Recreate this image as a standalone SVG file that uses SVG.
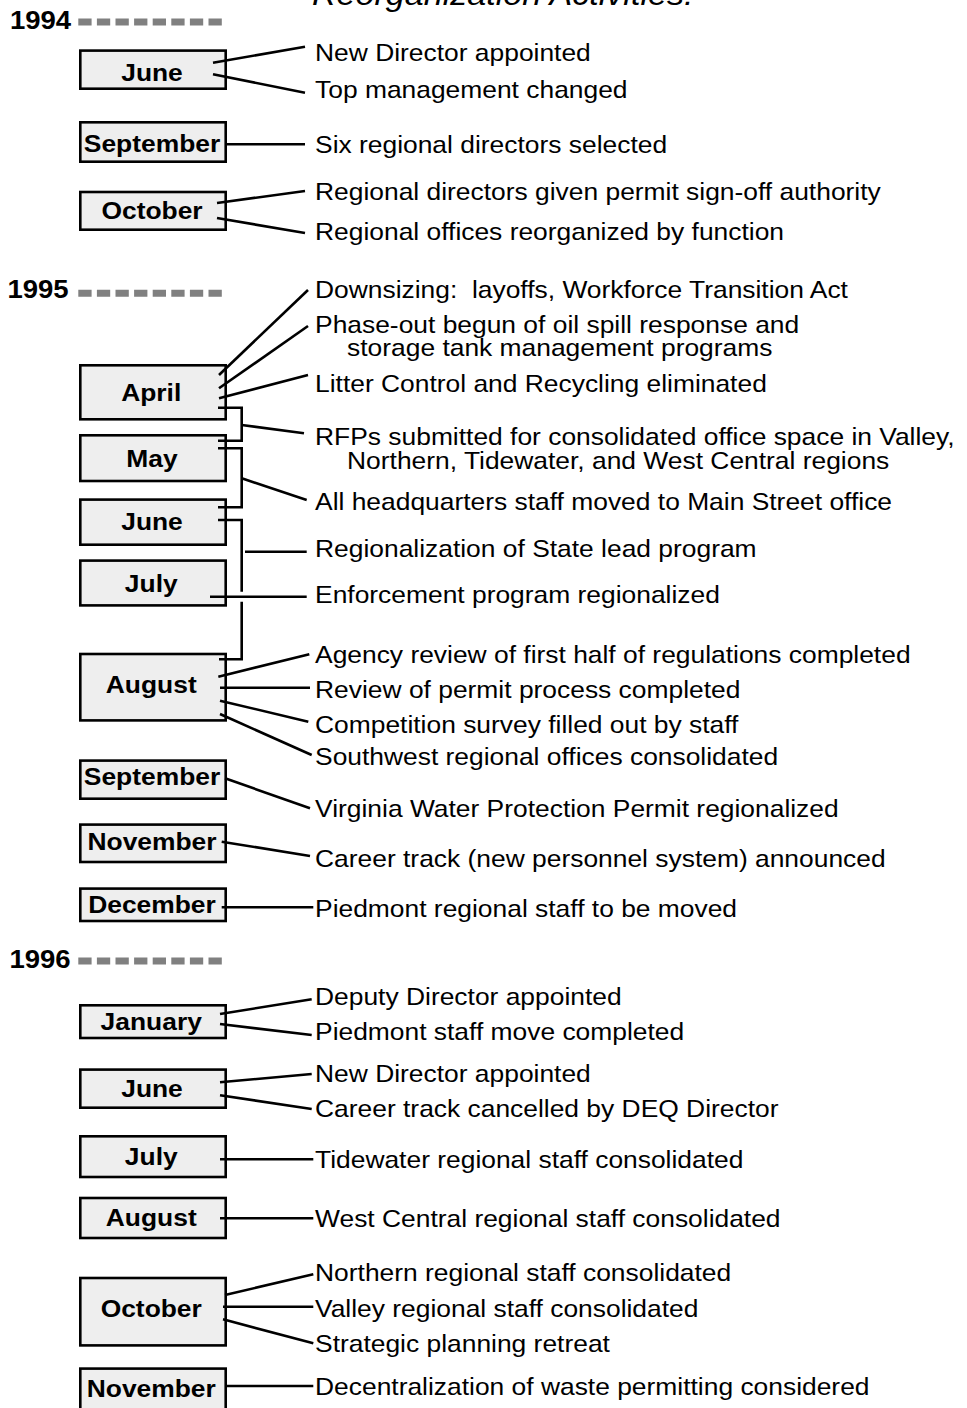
<svg xmlns="http://www.w3.org/2000/svg" width="967" height="1408" viewBox="0 0 967 1408">
<style>
.box{fill:#eeeeee;stroke:#000;stroke-width:2.6}
.mo{font-family:"Liberation Sans",Arial,sans-serif;font-size:24px;font-weight:bold;text-anchor:middle;fill:#000}
.ev{font-family:"Liberation Sans",Arial,sans-serif;font-size:24px;fill:#000}
.yr{font-family:"Liberation Sans",Arial,sans-serif;font-size:25px;font-weight:bold;fill:#000}
.ti{font-family:"Liberation Sans",Arial,sans-serif;font-size:31px;font-style:italic;fill:#000}
.dash{stroke:#808080;stroke-width:7;stroke-dasharray:13.3 5.3;fill:none}
.cn line,.cn path{stroke:#000;stroke-width:2.6;fill:none}
</style>
<rect width="967" height="1408" fill="#fff"/>
<g id="title" transform="scale(1.1 1)"><text class="ti" x="283.6" y="5">Reorganization Activities:</text></g>
<g id="year1994"><g transform="scale(1.1 1)"><text class="yr" x="9.1" y="29">1994</text></g><line class="dash" x1="78.3" y1="22" x2="222.7" y2="22"/></g>
<g id="year1995"><g transform="scale(1.1 1)"><text class="yr" x="6.8" y="298">1995</text></g><line class="dash" x1="78.3" y1="293.3" x2="222.7" y2="293.3"/></g>
<g id="year1996"><g transform="scale(1.1 1)"><text class="yr" x="8.6" y="968">1996</text></g><line class="dash" x1="78.3" y1="961" x2="222.7" y2="961"/></g>

<g id="m94-jun"><rect class="box" x="80.3" y="50.6" width="145.4" height="38.1"/><text class="mo" transform="scale(1.1 1)" x="138.2" y="81">June</text></g>
<g id="m94-sep"><rect class="box" x="80.3" y="122.3" width="145.4" height="39.4"/><text class="mo" transform="scale(1.1 1)" x="138.2" y="152">September</text></g>
<g id="m94-oct"><rect class="box" x="80.3" y="192" width="145.4" height="37.7"/><text class="mo" transform="scale(1.1 1)" x="138.2" y="219">October</text></g>

<g id="m95-apr"><rect class="box" x="80.3" y="365.3" width="145.4" height="54"/><text class="mo" transform="scale(1.1 1)" x="137.5" y="400.7">April</text></g>
<g id="m95-may"><rect class="box" x="80.3" y="435.3" width="145.4" height="45.7"/><text class="mo" transform="scale(1.1 1)" x="138.2" y="466.7">May</text></g>
<g id="m95-jun"><rect class="box" x="80.3" y="499.6" width="145.4" height="45.1"/><text class="mo" transform="scale(1.1 1)" x="138.2" y="530">June</text></g>
<g id="m95-jul"><rect class="box" x="80.3" y="560.6" width="145.4" height="44.8"/><text class="mo" transform="scale(1.1 1)" x="137.5" y="591.7">July</text></g>
<g id="m95-aug"><rect class="box" x="80.3" y="654" width="145.4" height="66.4"/><text class="mo" transform="scale(1.1 1)" x="137.5" y="693.3">August</text></g>
<g id="m95-sep"><rect class="box" x="80.3" y="760.6" width="145.4" height="38.1"/><text class="mo" transform="scale(1.1 1)" x="138.2" y="785">September</text></g>
<g id="m95-nov"><rect class="box" x="80.3" y="824.6" width="145.4" height="37.4"/><text class="mo" transform="scale(1.1 1)" x="138.2" y="850">November</text></g>
<g id="m95-dec"><rect class="box" x="80.3" y="888.6" width="145.4" height="32.4"/><text class="mo" transform="scale(1.1 1)" x="138.2" y="912.7">December</text></g>

<g id="m96-jan"><rect class="box" x="80.3" y="1005.3" width="145.4" height="32.7"/><text class="mo" transform="scale(1.1 1)" x="137.5" y="1030">January</text></g>
<g id="m96-jun"><rect class="box" x="80.3" y="1069.6" width="145.4" height="38.1"/><text class="mo" transform="scale(1.1 1)" x="138.2" y="1096.7">June</text></g>
<g id="m96-jul"><rect class="box" x="80.3" y="1136.3" width="145.4" height="40.7"/><text class="mo" transform="scale(1.1 1)" x="137.5" y="1165">July</text></g>
<g id="m96-aug"><rect class="box" x="80.3" y="1198" width="145.4" height="40"/><text class="mo" transform="scale(1.1 1)" x="137.5" y="1226">August</text></g>
<g id="m96-oct"><rect class="box" x="80.3" y="1278" width="145.4" height="67.4"/><text class="mo" transform="scale(1.1 1)" x="137.5" y="1316.7">October</text></g>
<g id="m96-nov"><rect class="box" x="80.3" y="1368.6" width="145.4" height="45"/><text class="mo" transform="scale(1.1 1)" x="137.5" y="1396.7">November</text></g>

<g id="connectors" class="cn">
<line x1="213" y1="62.7" x2="305" y2="46.7"/>
<line x1="213" y1="74.3" x2="305" y2="92.7"/>
<line x1="225" y1="144.3" x2="305" y2="144.3"/>
<line x1="217" y1="203" x2="305" y2="191"/>
<line x1="217" y1="218" x2="305" y2="233"/>
<line x1="219" y1="375" x2="308" y2="290"/>
<line x1="219" y1="388.3" x2="308" y2="326"/>
<line x1="219" y1="398.3" x2="308" y2="375"/>
<path d="M218,407.7 H241.7 V440.7 H218"/>
<line x1="241.7" y1="425" x2="304" y2="433.3"/>
<path d="M218,448.3 H241.7 V507.3 H218"/>
<line x1="241.7" y1="478.3" x2="306.7" y2="500"/>
<path d="M218,520 H241.7 V591.7"/>
<path d="M241.7,601.7 V659.3 H219"/>
<line x1="245" y1="551.7" x2="306.7" y2="551.7"/>
<line x1="210" y1="596.7" x2="306.7" y2="596.7"/>
<line x1="218.3" y1="676.7" x2="309.3" y2="654.3"/>
<line x1="220" y1="687.7" x2="310" y2="687.7"/>
<line x1="220" y1="700.7" x2="308.3" y2="721.7"/>
<line x1="220" y1="714" x2="311.7" y2="755"/>
<line x1="225" y1="778.3" x2="310" y2="808.3"/>
<line x1="221.7" y1="841.7" x2="310" y2="856"/>
<line x1="221.7" y1="907.3" x2="313.3" y2="907.3"/>
<line x1="220" y1="1014" x2="311.7" y2="999.3"/>
<line x1="220" y1="1024" x2="311.7" y2="1035"/>
<line x1="220" y1="1082.3" x2="311.7" y2="1074"/>
<line x1="220" y1="1095.3" x2="311.7" y2="1109"/>
<line x1="220" y1="1159.3" x2="313.3" y2="1159.3"/>
<line x1="220" y1="1218.3" x2="313.3" y2="1218.3"/>
<line x1="225" y1="1295" x2="313.3" y2="1274.3"/>
<line x1="223" y1="1306.7" x2="313.3" y2="1306.7"/>
<line x1="223" y1="1319.3" x2="313.3" y2="1343.3"/>
<line x1="225" y1="1386" x2="313.3" y2="1386"/>
</g>

<g id="events" transform="scale(1.1 1)">
<g id="e94-1"><text class="ev" x="286.4" y="61">New Director appointed</text></g>
<g id="e94-2"><text class="ev" x="286.4" y="98">Top management changed</text></g>
<g id="e94-3"><text class="ev" x="286.4" y="153">Six regional directors selected</text></g>
<g id="e94-4"><text class="ev" x="286.4" y="200">Regional directors given permit sign-off authority</text></g>
<g id="e94-5"><text class="ev" x="286.4" y="240">Regional offices reorganized by function</text></g>
<g id="e95-1"><text class="ev" x="286.4" y="298.3" xml:space="preserve">Downsizing:  layoffs, Workforce Transition Act</text></g>
<g id="e95-2"><text class="ev" x="286.4" y="333.3">Phase-out begun of oil spill response and</text><text class="ev" x="315.5" y="356">storage tank management programs</text></g>
<g id="e95-3"><text class="ev" x="286.4" y="392">Litter Control and Recycling eliminated</text></g>
<g id="e95-4"><text class="ev" x="286.4" y="445">RFPs submitted for consolidated office space in Valley,</text><text class="ev" x="315.5" y="469">Northern, Tidewater, and West Central regions</text></g>
<g id="e95-5"><text class="ev" x="286.4" y="510">All headquarters staff moved to Main Street office</text></g>
<g id="e95-6"><text class="ev" x="286.4" y="556.7">Regionalization of State lead program</text></g>
<g id="e95-7"><text class="ev" x="286.4" y="603.3">Enforcement program regionalized</text></g>
<g id="e95-8"><text class="ev" x="286.4" y="662.7">Agency review of first half of regulations completed</text></g>
<g id="e95-9"><text class="ev" x="286.4" y="698.3">Review of permit process completed</text></g>
<g id="e95-10"><text class="ev" x="286.4" y="733.3">Competition survey filled out by staff</text></g>
<g id="e95-11"><text class="ev" x="286.4" y="765">Southwest regional offices consolidated</text></g>
<g id="e95-12"><text class="ev" x="286.4" y="816.7">Virginia Water Protection Permit regionalized</text></g>
<g id="e95-13"><text class="ev" x="286.4" y="866.7">Career track (new personnel system) announced</text></g>
<g id="e95-14"><text class="ev" x="286.4" y="916.7">Piedmont regional staff to be moved</text></g>
<g id="e96-1"><text class="ev" x="286.4" y="1005">Deputy Director appointed</text></g>
<g id="e96-2"><text class="ev" x="286.4" y="1040">Piedmont staff move completed</text></g>
<g id="e96-3"><text class="ev" x="286.4" y="1081.7">New Director appointed</text></g>
<g id="e96-4"><text class="ev" x="286.4" y="1116.7">Career track cancelled by DEQ Director</text></g>
<g id="e96-5"><text class="ev" x="286.4" y="1168.3">Tidewater regional staff consolidated</text></g>
<g id="e96-6"><text class="ev" x="286.4" y="1226.7">West Central regional staff consolidated</text></g>
<g id="e96-7"><text class="ev" x="286.4" y="1280.7">Northern regional staff consolidated</text></g>
<g id="e96-8"><text class="ev" x="286.4" y="1316.7">Valley regional staff consolidated</text></g>
<g id="e96-9"><text class="ev" x="286.4" y="1351.7">Strategic planning retreat</text></g>
<g id="e96-10"><text class="ev" x="286.4" y="1395">Decentralization of waste permitting considered</text></g>
</g>
</svg>
